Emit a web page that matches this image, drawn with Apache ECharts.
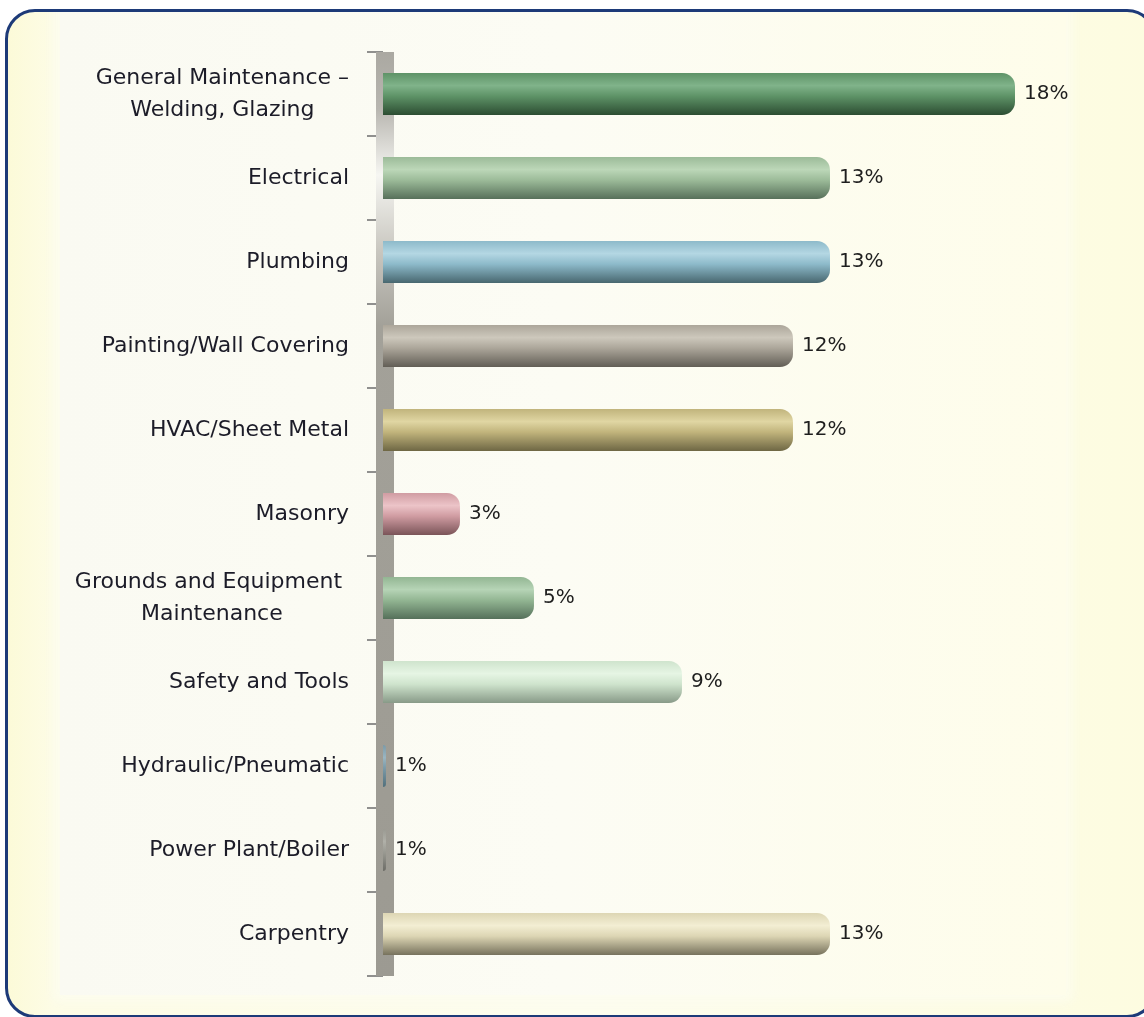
<!DOCTYPE html>
<html>
<head>
<meta charset="utf-8">
<script src="https://cdn.jsdelivr.net/npm/echarts@6/dist/echarts.min.js"></script>
<style>
  html, body { margin: 0; padding: 0; width: 1144px; height: 1017px; overflow: hidden; background: #ffffff; }
  #frame {
    position: absolute; left: 5px; top: 9px; width: 1152px; height: 1009px;
    box-sizing: border-box; border: 3px solid #1d3a78; border-radius: 30px;
    background: linear-gradient(to right, #fcfad8 0%, #fdfce6 4%, #fdfdef 50%, #fdfce0 100%);
    overflow: hidden;
  }
  #inner {
    position: absolute; left: 52px; top: -10px; width: 1006px; height: 993px;
    background: linear-gradient(to right, #fafaf2 0%, #fcfcf4 50%, #fefdea 100%);
    box-shadow: 0 0 10px 6px rgba(252,252,240,0.8);
  }
  #chart { position: absolute; left: 0; top: 0; width: 1144px; height: 1017px; }
</style>
</head>
<body>
<div id="frame"><div id="inner"></div></div>
<div id="chart"></div>
<script>
const categories = [
  'General Maintenance –\nWelding, Glazing',
  'Electrical',
  'Plumbing',
  'Painting/Wall Covering',
  'HVAC/Sheet Metal',
  'Masonry',
  'Grounds and Equipment \nMaintenance',
  'Safety and Tools',
  'Hydraulic/Pneumatic',
  'Power Plant/Boiler',
  'Carpentry'
];
const shares = [18, 13, 13, 12, 12, 3, 5, 9, 1, 1, 13];

// [highlight, mid, dark] per bar
const barColors = [
  ['#80b38a', '#5e9367', '#2c4d32'],
  ['#bcd7b8', '#9cbb99', '#57705a'],
  ['#b4d7e3', '#8dbaca', '#48676f'],
  ['#cdc8bc', '#aca69a', '#625e56'],
  ['#e0d6a3', '#c1b47c', '#6e6744'],
  ['#ecc4c8', '#d09ca2', '#7a5458'],
  ['#b6d4b6', '#93b693', '#55705a'],
  ['#e6f5e4', '#cfe4cd', '#889a88'],
  ['#9ab6c2', '#7b9aa8', '#52707c'],
  ['#b0b0a8', '#9a9a92', '#6c6c66'],
  ['#f3eed3', '#ddd6b4', '#77725d']
];

const FONT = 'DejaVu Sans';

function barGradient(c) {
  return new echarts.graphic.LinearGradient(0, 0, 0, 1, [
    { offset: 0, color: c[1] },
    { offset: 0.3, color: c[0] },
    { offset: 0.55, color: c[1] },
    { offset: 1, color: c[2] }
  ]);
}

const wallGradient = new echarts.graphic.LinearGradient(0, 0, 0, 1, [
  { offset: 0, color: '#a8a69f' },
  { offset: 0.07, color: '#b8b6b0' },
  { offset: 0.14, color: '#f6f6f2' },
  { offset: 0.22, color: '#c9c7c0' },
  { offset: 0.3, color: '#a3a199' },
  { offset: 1, color: '#9c9a92' }
]);

const chart = echarts.init(document.getElementById('chart'), null, { renderer: 'canvas' });

chart.setOption({
  animation: false,
  backgroundColor: 'transparent',
  grid: { left: 383, right: 55, top: 52, bottom: 41 },
  xAxis: { type: 'value', min: 0.92, max: 20, show: false },
  yAxis: [
    {
      type: 'category',
      data: categories,
      inverse: true,
      z: 0,
      axisLine: { show: false },
      axisTick: { show: true, length: 16, lineStyle: { color: '#6e6e6e', width: 1.5 } },
      axisLabel: {
        margin: 34,
        formatter: function (v) {
          return v.split('\n').map(function (l) { return '{c|' + l + '}'; }).join('\n');
        },
        rich: {
          c: { align: 'center', fontFamily: FONT, fontSize: 22, lineHeight: 32, color: '#1c1c28' }
        }
      }
    },
    {
      type: 'category',
      data: categories,
      inverse: true,
      position: 'left',
      offset: -2,
      z: 1,
      axisLine: { show: true, lineStyle: { width: 18, cap: 'butt', color: wallGradient } },
      axisTick: { show: false },
      axisLabel: { show: false }
    }
  ],
  series: [{
    type: 'bar',
    yAxisIndex: 0,
    barWidth: 42,
    z: 2,
    data: shares.map(function (v, i) {
      return { value: v, itemStyle: { color: barGradient(barColors[i]), borderRadius: [0, 13, 13, 0] } };
    }),
    label: {
      show: true,
      position: 'right',
      distance: 9,
      formatter: '{c}%',
      fontFamily: FONT,
      fontSize: 20,
      color: '#1e1e1e'
    }
  }]
});
</script>
</body>
</html>
